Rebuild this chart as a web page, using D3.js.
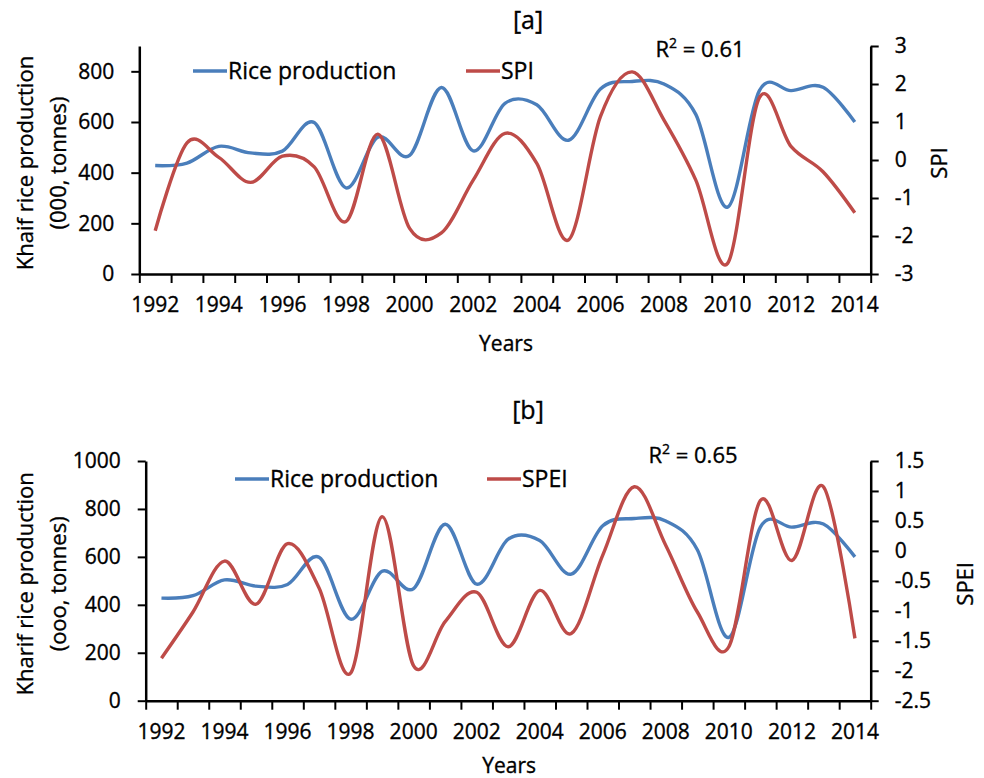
<!DOCTYPE html>
<html>
<head>
<meta charset="utf-8">
<script src="https://cdn.jsdelivr.net/npm/d3@7"></script>
<style>
  body { margin: 0; background: #fff; }
  text { font-family: "Open Sans", "Noto Sans", sans-serif; fill: #000; stroke: #000; stroke-width: 0.35px; }
</style>
</head>
<body>
<script>
/* data */
var years = d3.range(1992, 2015)
var rice = [428, 438, 504, 478, 485, 598, 340, 540, 468, 736, 486, 674,
            668, 528, 730, 760, 750, 630, 264, 724, 724, 737, 600]
var spi = [-1.86, 0.45, 0.07, -0.59, 0.1, -0.18, -1.62, 0.68, -1.8, -1.92, -0.53, 0.7,
           -0.09, -2.1, 1.14, 2.32, 1.05, -0.53, -2.72, 1.64, 0.35, -0.31, -1.39]
var spei = [-1.79, -1.02, -0.17, -0.89, 0.12, -0.62, -2.04, 0.57, -1.92, -1.18, -0.69, -1.6,
            -0.66, -1.38, -0.07, 1.07, 0.09, -1.02, -1.6, 0.84, -0.16, 1.07, -1.46]
var riceTicksA = [0, 200, 400, 600, 800]
var spiTicks = [-3, -2, -1, 0, 1, 2, 3]
var riceTicksB = [0, 200, 400, 600, 800, 1000]
var speiTicks = [-2.5, -2, -1.5, -1, -0.5, 0, 0.5, 1, 1.5]
var yearLabels = d3.range(1992, 2015, 2)

/* setup */
var width = 984
var height = 778
var blue = '#4a7ebb'
var red = '#be4b48'
var fsTick = 21
var fsText = 22

var svg = d3.select('body').append('svg')
    .attr('width', width)
    .attr('height', height)

drawPanel({
    left: 139.3, right: 870.7, top: 46, bottom: 274,
    leftDomain: [0, 900], leftTicks: riceTicksA,
    rightDomain: [-3, 3], rightTicks: spiTicks,
    index: spi, indexName: 'SPI',
    title: '[a]', r2: '0.61', r2x: 700, r2y: 57,
    ytitle1: 'Khaif rice production', ytitle2: '(000, tonnes)',
    legendY: 71, legendBlue: 193, legendRed: 466,
    rightTitleX: 939, titleY: 29, yearsY: 351
})

drawPanel({
    left: 145.7, right: 870.7, top: 461, bottom: 700.7,
    leftDomain: [0, 1000], leftTicks: riceTicksB,
    rightDomain: [-2.5, 1.5], rightTicks: speiTicks,
    index: spei, indexName: 'SPEI',
    title: '[b]', r2: '0.65', r2x: 693, r2y: 463,
    ytitle1: 'Kharif rice production', ytitle2: '(ooo, tonnes)',
    legendY: 479, legendBlue: 235, legendRed: 487,
    rightTitleX: 965, titleY: 419, yearsY: 773
})

function drawPanel(p) {
    var g = svg.append('g')

    var x = d3.scaleBand().domain(years).range([p.left, p.right])
    var xb = d3.scaleLinear().domain([0, years.length]).range([p.left, p.right])
    var yl = d3.scaleLinear().domain(p.leftDomain).range([p.bottom, p.top])
    var yr = d3.scaleLinear().domain(p.rightDomain).range([p.bottom, p.top])

    // category boundary ticks
    g.append('g')
        .attr('transform', 'translate(0,' + p.bottom + ')')
        .call(d3.axisBottom(xb).tickValues(d3.range(years.length + 1))
            .tickFormat('').tickSize(9).tickSizeOuter(0))
    // year labels at category centres
    var gxl = g.append('g')
        .attr('transform', 'translate(0,' + p.bottom + ')')
        .call(d3.axisBottom(x).tickValues(yearLabels).tickSize(0).tickPadding(23))
    gxl.select('.domain').remove()

    g.append('g')
        .attr('transform', 'translate(' + p.left + ',0)')
        .call(d3.axisLeft(yl).tickValues(p.leftTicks).tickSize(8).tickSizeOuter(0)
            .tickPadding(17).tickFormat(function(d) { return String(d) }))

    g.append('g')
        .attr('transform', 'translate(' + p.right + ',0)')
        .call(d3.axisRight(yr).tickValues(p.rightTicks).tickSize(8).tickSizeOuter(0)
            .tickPadding(16).tickFormat(function(d) { return String(d) }))

    g.selectAll('.domain, .tick line').attr('stroke', '#000').attr('stroke-width', 2)
    g.selectAll('.tick text').attr('font-size', fsTick).attr('font-family', null)
    g.selectAll('.domain').attr('stroke-width', 2.5)

    var cx = function(d, i) { return x(years[i]) + x.bandwidth() / 2 }
    var lineL = d3.line().x(cx).y(function(d) { return yl(d) }).curve(d3.curveCatmullRom.alpha(0))
    var lineR = d3.line().x(cx).y(function(d) { return yr(d) }).curve(d3.curveCatmullRom.alpha(0))

    g.append('path').datum(rice)
        .attr('d', lineL)
        .attr('fill', 'none').attr('stroke', blue).attr('stroke-width', 3.4)
    g.append('path').datum(p.index)
        .attr('d', lineR)
        .attr('fill', 'none').attr('stroke', red).attr('stroke-width', 3.4)

    // legend
    var lg = [
        { x: p.legendBlue, color: blue, label: 'Rice production' },
        { x: p.legendRed, color: red, label: p.indexName }
    ]
    lg.forEach(function(d) {
        g.append('line')
            .attr('x1', d.x).attr('x2', d.x + 34)
            .attr('y1', p.legendY).attr('y2', p.legendY)
            .attr('stroke', d.color).attr('stroke-width', 3.4)
        g.append('text')
            .attr('x', d.x + 35).attr('y', p.legendY + 8)
            .attr('font-size', 23)
            .text(d.label)
    })

    // titles
    g.append('text')
        .attr('x', 528).attr('y', p.titleY)
        .attr('text-anchor', 'middle').attr('font-size', 25)
        .text(p.title)

    var r2 = g.append('text')
        .attr('x', p.r2x).attr('y', p.r2y)
        .attr('text-anchor', 'middle').attr('font-size', fsText)
    r2.append('tspan').text('R')
    r2.append('tspan').attr('dy', -9).attr('font-size', 14).text('2')
    r2.append('tspan').attr('dy', 9).text(' = ' + p.r2)

    g.append('text')
        .attr('x', (p.left + p.right) / 2 + 1).attr('y', p.yearsY)
        .attr('text-anchor', 'middle').attr('font-size', fsTick)
        .text('Years')

    var cy = (p.top + p.bottom) / 2 + 3
    g.append('text')
        .attr('transform', 'translate(33,' + cy + ') rotate(-90)')
        .attr('text-anchor', 'middle').attr('font-size', fsText)
        .text(p.ytitle1)
    g.append('text')
        .attr('transform', 'translate(66,' + cy + ') rotate(-90)')
        .attr('text-anchor', 'middle').attr('font-size', fsText)
        .text(p.ytitle2)

    g.append('text')
        .attr('transform', 'translate(' + (p.rightTitleX + 8) + ',' + cy + ') rotate(-90)')
        .attr('text-anchor', 'middle').attr('font-size', fsText)
        .text(p.indexName)
}
</script>
</body>
</html>
